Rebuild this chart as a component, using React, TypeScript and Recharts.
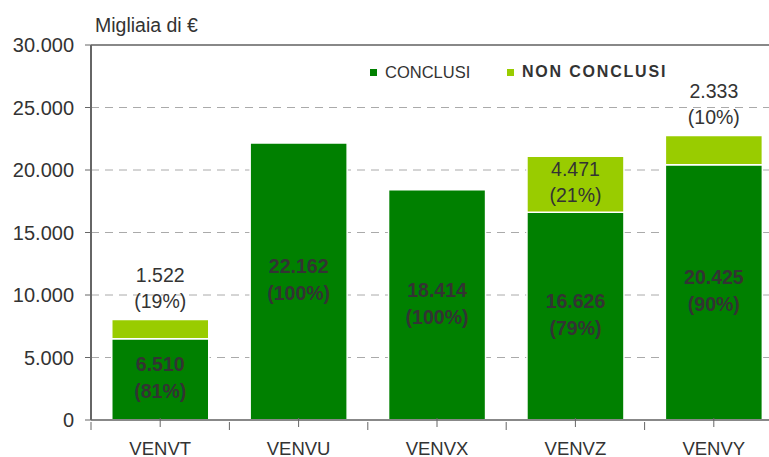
import React from "react";
import { BarChart, Bar, XAxis, YAxis, CartesianGrid, ReferenceLine, LabelList } from "recharts";

const categories = ["VENVT", "VENVU", "VENVX", "VENVZ", "VENVY"];
const conclusi = [6510, 22162, 18414, 16626, 20425];
const nonConclusi = [1522, 0, 0, 4471, 2333];
const yTicks = [0, 5000, 10000, 15000, 20000, 25000, 30000];

const DARK = "#008000";
const LIGHT = "#99CC00";
const TEXT = "#333333";
const FONT = "'Liberation Sans', Arial, sans-serif";

const fmt = (v: number) => String(Math.round(v)).replace(/\B(?=(\d{3})+(?!\d))/g, ".");

const data = categories.map((c, i) => {
  const tot = conclusi[i] + nonConclusi[i];
  return {
    name: c,
    conclusi: conclusi[i],
    nonConclusi: nonConclusi[i] > 0 ? nonConclusi[i] : null,
    pc: Math.round((conclusi[i] / tot) * 100),
    pn: Math.round((nonConclusi[i] / tot) * 100),
  };
});

const ConclLabel = (props: any) => {
  const { x, y, width, height, value } = props;
  const d = data.find((e) => e.conclusi === value);
  if (!d) return null;
  const cx = x + width / 2;
  const cy = y + height / 2;
  return (
    <text x={cx} textAnchor="middle" fontFamily={FONT} fontSize={19.5} fontWeight="bold" fill={TEXT}>
      <tspan x={cx} y={cy - 8}>{fmt(d.conclusi)}</tspan>
      <tspan x={cx} y={cy + 19}>({d.pc}%)</tspan>
    </text>
  );
};

const NonLabel = (props: any) => {
  const { x, y, width, height, value } = props;
  const d = data.find((e) => e.nonConclusi === value);
  if (!d || !d.nonConclusi) return null;
  const cx = x + width / 2;
  const inside = height > 40;
  const y1 = inside ? y + height / 2 - 8 : y - 38;
  return (
    <text x={cx} textAnchor="middle" fontFamily={FONT} fontSize={19.5} fill={TEXT}>
      <tspan x={cx} y={y1}>{fmt(d.nonConclusi)}</tspan>
      <tspan x={cx} y={y1 + 26}>({d.pn}%)</tspan>
    </text>
  );
};

const XTick = (props: any) => {
  const { x, y, payload } = props;
  const off = payload.offset || 0;
  return (
    <g>
      <line x1={x} x2={x} y1={y - 10} y2={y - 1} stroke="#666" />
      <line x1={x - off} x2={x - off} y1={y - 6} y2={y + 2} stroke="#666" />
      <text x={x} y={y + 27} textAnchor="middle" fontFamily={FONT} fontSize={18.5} fill={TEXT}>
        {payload.value}
      </text>
    </g>
  );
};

export default function App() {
  return (
    <div style={{ position: "absolute", left: 0, top: 0, width: 769, height: 457, overflow: "hidden", background: "#fff" }}>
      <BarChart
        width={800}
        height={457}
        data={data}
        margin={{ top: 45, right: 17, bottom: 0, left: 0 }}
        barCategoryGap="15%"
      >
        <CartesianGrid vertical={false} stroke="#aaaaaa" strokeDasharray="8 6" />
        <ReferenceLine y={30000} stroke="#888888" strokeWidth={2} />
        <XAxis
          dataKey="name"
          height={37}
          axisLine={{ stroke: "#888888", strokeWidth: 2 }}
          tickLine={false}
          tick={<XTick />}
          interval={0}
        />
        <YAxis
          width={91}
          domain={[0, 30000]}
          ticks={yTicks}
          tickFormatter={fmt}
          axisLine={{ stroke: "#666666", strokeWidth: 2 }}
          tickLine={{ stroke: "#666666" }}
          tickSize={6}
          tickMargin={11}
          tick={{ fontFamily: FONT, fontSize: 20, fill: TEXT }}
          interval={0}
        />
        <Bar dataKey="conclusi" stackId="a" fill={DARK} stroke="#ffffff" strokeWidth={1.5} isAnimationActive={false}>
          <LabelList dataKey="conclusi" content={<ConclLabel />} />
        </Bar>
        <Bar dataKey="nonConclusi" stackId="a" fill={LIGHT} stroke="#ffffff" strokeWidth={1.5} isAnimationActive={false}>
          <LabelList dataKey="nonConclusi" content={<NonLabel />} />
        </Bar>
      </BarChart>
      <div style={{ position: "absolute", left: 95, top: 13, fontFamily: FONT, fontSize: 19.5, color: TEXT, lineHeight: "24px" }}>Migliaia di €</div>
      <div style={{ position: "absolute", left: 0, top: 62, width: 769, height: 20, fontFamily: FONT }}>
        <div style={{ position: "absolute", left: 370, top: 7, width: 7, height: 7, background: DARK }} />
        <div style={{ position: "absolute", left: 385, top: 0, fontSize: 16.5, color: TEXT, lineHeight: "20px" }}>CONCLUSI</div>
        <div style={{ position: "absolute", left: 507, top: 7, width: 7, height: 7, background: LIGHT }} />
        <div style={{ position: "absolute", left: 522, top: 0, fontSize: 16, fontWeight: "bold", letterSpacing: 1.8, color: TEXT, lineHeight: "20px" }}>NON CONCLUSI</div>
      </div>
    </div>
  );
}
